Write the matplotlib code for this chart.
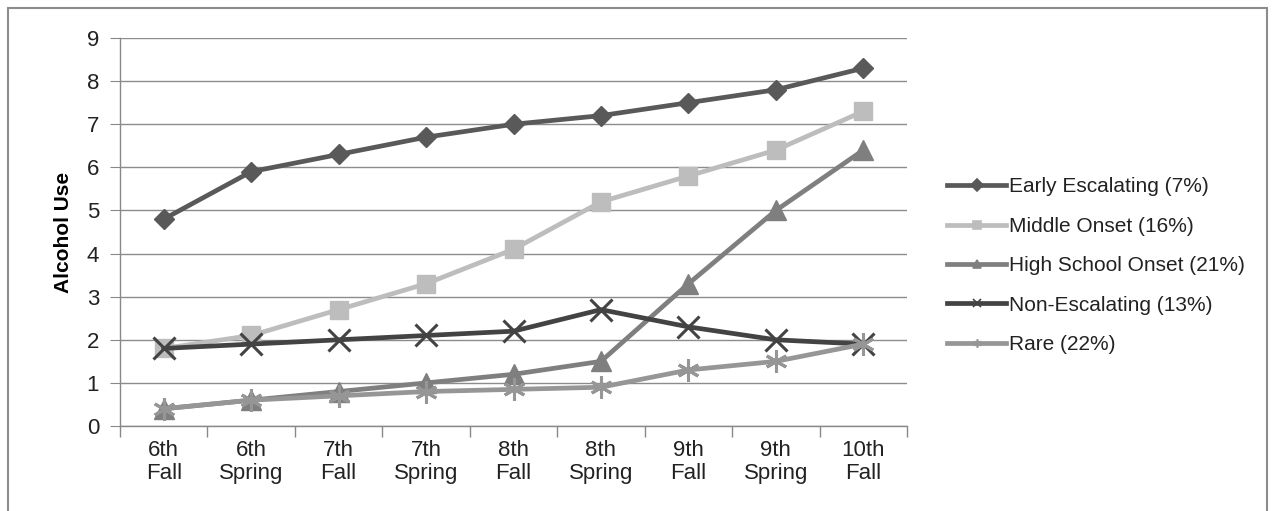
import matplotlib.pyplot as plt
from matplotlib.patches import Rectangle

# waves
waves = ["6th\nFall", "6th\nSpring", "7th\nFall", "7th\nSpring", "8th\nFall",
         "8th\nSpring", "9th\nFall", "9th\nSpring", "10th\nFall"]

early = [4.8, 5.9, 6.3, 6.7, 7.0, 7.2, 7.5, 7.8, 8.3]
middle = [1.8, 2.1, 2.7, 3.3, 4.1, 5.2, 5.8, 6.4, 7.3]
high_school = [0.4, 0.6, 0.8, 1.0, 1.2, 1.5, 3.3, 5.0, 6.4]
non_esc = [1.8, 1.9, 2.0, 2.1, 2.2, 2.7, 2.3, 2.0, 1.9]
rare = [0.4, 0.6, 0.7, 0.8, 0.85, 0.9, 1.3, 1.5, 1.9]

plt.rcParams['font.family'] = ['Liberation Sans', 'DejaVu Sans']

fig = plt.figure(figsize=(12.73, 5.11), dpi=100)
ax = fig.add_axes([0.0943, 0.1663, 0.6182, 0.7593])

x = list(range(len(waves)))
asterisk = (6, 2, 0)

series = [
    (early, "Early Escalating (7%)", "#595959", "D", 10, 1),
    (middle, "Middle Onset (16%)", "#bdbdbd", "s", 13, 1),
    (high_school, "High School Onset (21%)", "#7f7f7f", "^", 14, 1),
    (non_esc, "Non-Escalating (13%)", "#434343", "x", 16, 2.2),
    (rare, "Rare (22%)", "#969696", asterisk, 16, 2.2),
]

handles = []
for vals, label, col, mk, ms, mew in series:
    ax.plot(x, vals, color=col, lw=3.4, marker=mk, markersize=ms,
            markeredgewidth=mew, markerfacecolor=col, markeredgecolor=col,
            zorder=3)
    h, = ax.plot([], [], color=col, lw=3.4, marker=mk, markersize=6,
                 markeredgewidth=1.2, markerfacecolor=col, markeredgecolor=col)
    h.set_label(label)
    handles.append(h)

ax.set_xlim(-0.5, len(waves) - 0.5)
ax.set_ylim(0, 9)
ax.set_yticks(range(0, 10))
ax.set_xticks(x)
ax.set_xticklabels(waves, fontsize=16, linespacing=1.1)
ax.set_xticks([i - 0.5 for i in range(len(waves) + 1)], minor=True)
ax.tick_params(axis='x', which='major', length=0, pad=10)
ax.tick_params(axis='x', which='minor', length=8, color='#888888', width=1)
ax.tick_params(axis='y', length=7, color='#888888', labelsize=16, pad=8)
for lab in ax.get_yticklabels() + ax.get_xticklabels():
    lab.set_color('#222222')

ax.grid(axis='y', color='#8c8c8c', lw=1)
ax.set_axisbelow(True)
for s in ['top', 'right']:
    ax.spines[s].set_visible(False)
for s in ['left', 'bottom']:
    ax.spines[s].set_color('#888888')
    ax.spines[s].set_linewidth(1)

ax.set_ylabel("Alcohol Use", fontsize=15, fontweight='bold', labelpad=10)

fig.legend(handles=handles, loc='center left', bbox_to_anchor=(0.7295, 0.48),
           frameon=False, fontsize=15, handlelength=2.8, handletextpad=0.15,
           labelspacing=0.98, labelcolor='#222222')

# outer chart border
fig.patches.append(Rectangle((8 / 1273, -0.05), 1259 / 1273, 1 - 8 / 511 + 0.05,
                             transform=fig.transFigure, fill=False,
                             edgecolor='#8c8c8c', lw=1.5))

fig.savefig("out.png", dpi=100)
